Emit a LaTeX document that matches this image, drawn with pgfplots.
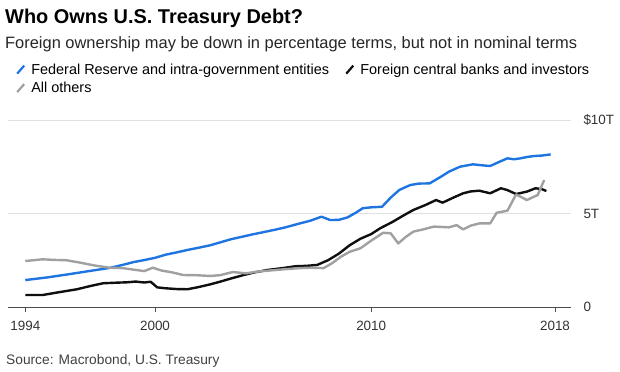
\documentclass[border=0pt]{standalone}
\usepackage{pgfplots}
\pgfplotsset{compat=1.18}
\usepackage{fontspec}
\setmainfont{Liberation Sans}
\definecolor{fedblue}{RGB}{30,117,225}
\definecolor{othgray}{RGB}{160,160,160}
\definecolor{fgnblack}{RGB}{15,15,15}

\pgfplotstableread{
year val
1994.0 1.44
1995.0 1.58
1996.0 1.75
1997.0 1.93
1997.9 2.09
1998.5 2.25
1999.0 2.40
1999.5 2.51
2000.0 2.63
2000.5 2.80
2001.0 2.92
2001.5 3.05
2002.1 3.19
2002.55 3.30
2003.0 3.45
2003.5 3.62
2004.0 3.75
2004.5 3.88
2005.0 4.00
2005.5 4.12
2006.0 4.25
2006.7 4.47
2007.2 4.62
2007.7 4.83
2008.1 4.65
2008.5 4.66
2008.9 4.79
2009.3 5.05
2009.6 5.28
2010.0 5.33
2010.5 5.36
2010.9 5.85
2011.3 6.26
2011.8 6.52
2012.2 6.60
2012.7 6.61
2013.2 6.95
2013.6 7.24
2014.1 7.50
2014.7 7.63
2015.1 7.58
2015.5 7.54
2015.9 7.75
2016.3 7.95
2016.6 7.90
2016.9 7.95
2017.2 8.02
2017.5 8.07
2017.9 8.10
2018.3 8.16
}\fed

\pgfplotstableread{
year val
1994.0 0.64
1994.8 0.64
1995.5 0.78
1996.4 0.95
1997.0 1.12
1997.6 1.27
1998.2 1.30
1998.7 1.32
1999.1 1.36
1999.5 1.31
1999.8 1.35
2000.1 1.05
2000.5 1.00
2001.0 0.96
2001.5 0.95
2001.95 1.05
2002.55 1.21
2003.0 1.35
2003.5 1.52
2004.1 1.71
2004.6 1.85
2005.2 1.98
2005.9 2.08
2006.5 2.18
2007.0 2.20
2007.5 2.25
2008.0 2.50
2008.5 2.85
2009.0 3.30
2009.5 3.65
2010.0 3.90
2010.4 4.20
2011.0 4.56
2011.5 4.90
2011.95 5.19
2012.5 5.45
2013.0 5.72
2013.3 5.58
2013.8 5.85
2014.25 6.08
2014.6 6.18
2015.0 6.22
2015.5 6.08
2016.0 6.35
2016.3 6.25
2016.7 6.04
2017.2 6.17
2017.6 6.35
2017.9 6.30
2018.1 6.20
}\foreign

\pgfplotstableread{
year val
1994.0 2.46
1994.8 2.55
1995.3 2.52
1995.9 2.50
1996.5 2.38
1997.2 2.22
1997.9 2.10
1998.5 2.08
1999.0 2.00
1999.5 1.92
1999.9 2.10
2000.3 1.95
2000.8 1.85
2001.3 1.71
2001.9 1.70
2002.55 1.66
2003.0 1.70
2003.6 1.87
2004.2 1.80
2004.8 1.90
2005.5 1.97
2006.0 2.02
2006.7 2.08
2007.2 2.10
2007.8 2.08
2008.2 2.35
2008.6 2.69
2009.0 2.95
2009.5 3.14
2010.0 3.55
2010.55 3.97
2010.9 3.94
2011.25 3.40
2011.6 3.75
2011.95 4.03
2012.4 4.15
2012.9 4.30
2013.6 4.26
2013.95 4.38
2014.25 4.15
2014.6 4.35
2015.0 4.47
2015.5 4.47
2015.8 5.04
2016.3 5.15
2016.7 6.02
2017.2 5.72
2017.7 5.99
2018.0 6.79
}\others

\begin{document}
\begin{tikzpicture}
\useasboundingbox (0bp,0bp) rectangle (620bp,372bp);
\node[anchor=base west, inner sep=0pt, font=\fontsize{20}{24}\selectfont\bfseries] at (5bp,348bp) {Who Owns U.S. Treasury Debt?};
\node[anchor=base west, inner sep=0pt, font=\fontsize{16.5}{19}\selectfont, text=black!85] at (5bp,323bp) {Foreign ownership may be down in percentage terms, but not in nominal terms};
\node[anchor=base west, inner sep=0pt, font=\fontsize{13.8}{16}\selectfont, text=black!75] at (6bp,8bp) {Source: Macrobond, U.S. Treasury};
\begin{axis}[
  at={(8bp,65bp)}, anchor=south west,
  scale only axis, width=563bp, height=187bp,
  xmin=1993.2, xmax=2019.24, ymin=0, ymax=10,
  axis x line*=bottom,
  axis y line*=right,
  y axis line style={draw=none},
  x axis line style={draw=black!70, line width=0.8bp, -},
  ymajorgrids, grid style={black!12, line width=0.7bp},
  xtick={1994,2000,2010,2018.5},
  xticklabels={1994,2000,2010,2018},
  ytick={0,5,10},
  yticklabels={0,5T,\$10T},
  tick align=outside,
  major tick length=5bp,
  x tick style={draw=black!70, line width=0.8bp},
  y tick style={draw=none},
  ticklabel style={font=\fontsize{13.5}{15}\selectfont, text=black!80},
  /pgf/number format/assume math mode=true,
  yticklabel style={anchor=west, xshift=4bp},
  xticklabel style={yshift=-6bp},
  legend columns=2,
  legend cell align=left,
  legend style={at={(axis description cs:0.014,1.313)}, anchor=north west,
    draw=none, fill=none, inner sep=0pt,
    font=\fontsize{14.5}{16}\selectfont,
    row sep=2.5bp,
    /tikz/every odd column/.append style={column sep=4bp},
    /tikz/every even column/.append style={column sep=14bp}},
  legend image code/.code={\draw[#1, line width=2.2bp] (0bp,-4bp) -- (7bp,4bp);},
]
\addplot[fedblue, line width=2.4bp, line join=round] table[x=year,y=val] {\fed};
\addlegendentry{Federal Reserve and intra-government entities}
\addplot[fgnblack, line width=2.4bp, line join=round] table[x=year,y=val] {\foreign};
\addlegendentry{Foreign central banks and investors}
\addplot[othgray, line width=2.4bp, line join=round] table[x=year,y=val] {\others};
\addlegendentry{All others}
\end{axis}
\end{tikzpicture}
\end{document}
